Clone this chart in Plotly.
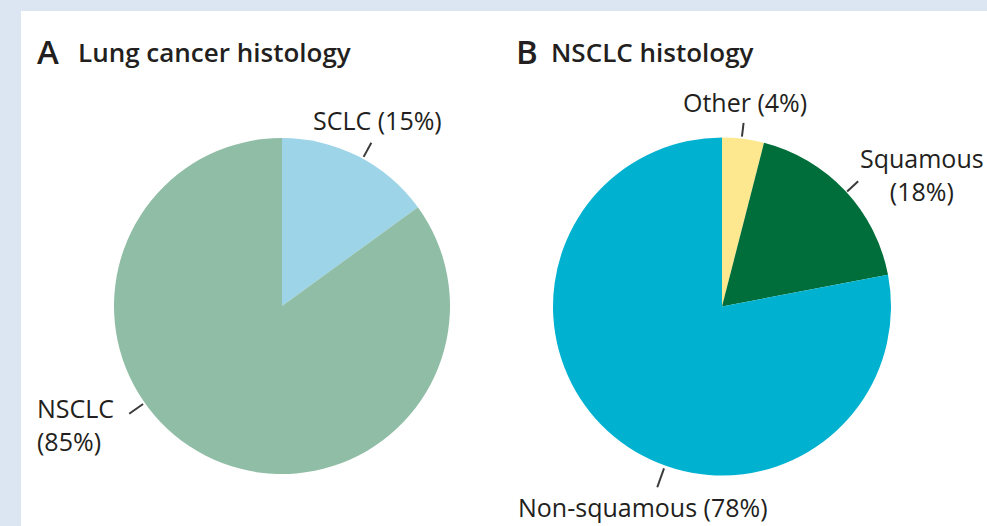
import math
import plotly.graph_objects as go

# ---- data ----
a_labels = ["SCLC", "NSCLC"]
a_values = [15, 85]
b_labels = ["Other", "Squamous", "Non-squamous"]
b_values = [4, 18, 78]

a_colors = ["#9dd4e7", "#90bda6"]
b_colors = ["#fde88f", "#006e3a", "#00b1d0"]

W, H = 987, 526
TXT = "#231f20"
FONT = "Open Sans"


def px(x):
    return x / W


def py(y):
    return 1 - y / H


# pie geometry (pixels)
A_C, A_R = (282, 306), 168
B_C, B_R = (722, 306.5), 169

fig = go.Figure()

fig.add_trace(go.Pie(
    labels=a_labels, values=a_values, sort=False, direction="clockwise", rotation=0,
    marker=dict(colors=a_colors, line=dict(width=0)), textinfo="none",
    hoverinfo="label+percent", showlegend=False,
    domain=dict(x=[px(A_C[0] - A_R), px(A_C[0] + A_R)], y=[py(A_C[1] + A_R), py(A_C[1] - A_R)]),
))
fig.add_trace(go.Pie(
    labels=b_labels, values=b_values, sort=False, direction="clockwise", rotation=0,
    marker=dict(colors=b_colors, line=dict(width=0)), textinfo="none",
    hoverinfo="label+percent", showlegend=False,
    domain=dict(x=[px(B_C[0] - B_R), px(B_C[0] + B_R)], y=[py(B_C[1] + B_R), py(B_C[1] - B_R)]),
))

shapes = [dict(type="rect", xref="paper", yref="paper", x0=px(21), x1=1, y0=0, y1=py(11),
               fillcolor="white", line=dict(width=0), layer="below")]

# leader lines: (center, angle clockwise from top, r_in, r_out)
leaders = [
    (A_C, 28.7, 170, 186),
    (A_C, 234.8, 170, 187),
    (B_C, 6.7, 171, 185),
    (B_C, 47.4, 170, 185),
    (B_C, 199.7, 172, 192),
]
for c, ang, r0, r1 in leaders:
    t = math.radians(ang)
    x0, y0 = c[0] + r0 * math.sin(t), c[1] - r0 * math.cos(t)
    x1, y1 = c[0] + r1 * math.sin(t), c[1] - r1 * math.cos(t)
    shapes.append(dict(type="line", xref="paper", yref="paper", x0=px(x0), y0=py(y0),
                       x1=px(x1), y1=py(y1), line=dict(color="#3a3a3a", width=2), layer="above"))


def pct(lbl, v):
    return f"{lbl} ({v}%)"


LBL = dict(size=25, color=TXT, family=FONT)
TTL = dict(size=26, color=TXT, family=FONT, weight=600)
LET = dict(size=33, color=TXT, family=FONT, weight=600)

annotations = [
    dict(text="A", x=px(35), y=py(51), xanchor="left", yanchor="middle", font=LET),
    dict(text="Lung cancer histology", x=px(76), y=py(52), xanchor="left", yanchor="middle", font=TTL),
    dict(text="B", x=px(514), y=py(51), xanchor="left", yanchor="middle", font=LET),
    dict(text="NSCLC histology", x=px(549), y=py(52), xanchor="left", yanchor="middle", font=TTL),
    dict(text=pct(a_labels[0], a_values[0]), x=px(377), y=py(120), xanchor="center", yanchor="middle", font=LBL),
    dict(text=f"{a_labels[1]}<br>({a_values[1]}%)", x=px(35), y=py(424), xanchor="left", yanchor="middle",
         align="left", font=LBL),
    dict(text=pct(b_labels[0], b_values[0]), x=px(745), y=py(102), xanchor="center", yanchor="middle", font=LBL),
    dict(text=f"{b_labels[1]}<br>({b_values[1]}%)", x=px(922), y=py(174), xanchor="center", yanchor="middle",
         align="center", font=LBL),
    dict(text=pct(b_labels[2], b_values[2]), x=px(643), y=py(507), xanchor="center", yanchor="middle", font=LBL),
]
for a in annotations:
    a.update(xref="paper", yref="paper", showarrow=False)

fig.update_layout(
    width=W, height=H, margin=dict(l=0, r=0, t=0, b=0),
    paper_bgcolor="#dce6f3", plot_bgcolor="white",
    shapes=shapes, annotations=annotations,
)

fig.write_html("out.html", config={"displayModeBar": False},
               post_script="document.body.style.margin='0';document.body.style.overflow='hidden';")
